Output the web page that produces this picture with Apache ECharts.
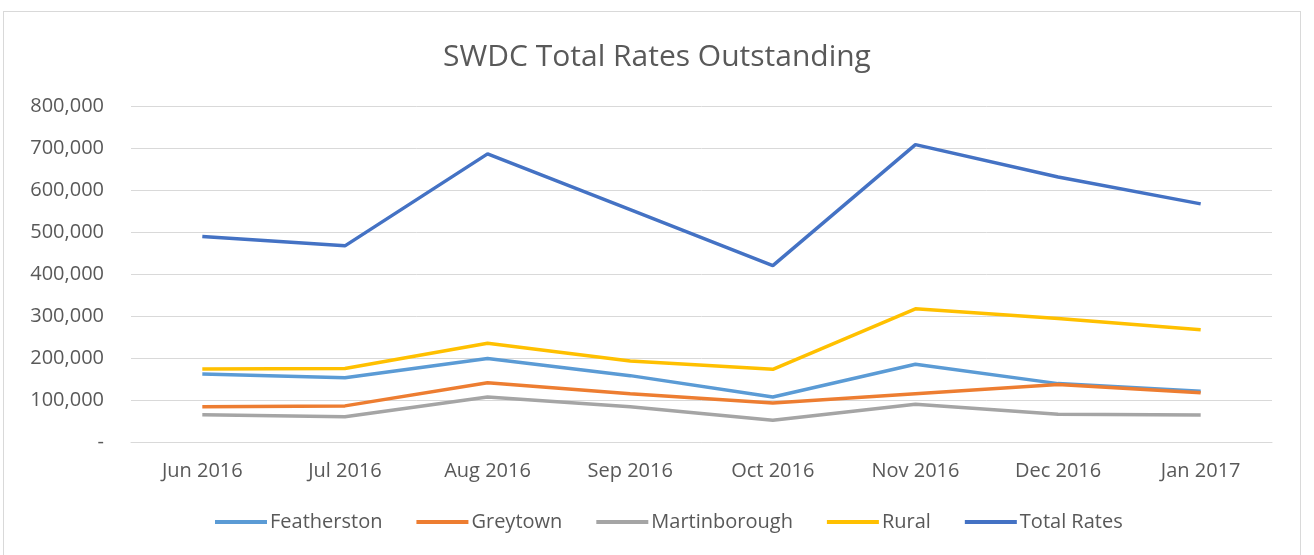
<!DOCTYPE html>
<html><head><meta charset="utf-8">
<script src="https://cdn.jsdelivr.net/npm/echarts@6/dist/echarts.min.js"></script>
<style>
html,body{margin:0;padding:0;background:#fff;}
#frame{position:absolute;left:3px;top:11px;width:1298px;height:560px;border:1px solid #d9d9d9;box-sizing:border-box;}
#c{position:absolute;left:0;top:0;width:1314px;height:555px;}
</style></head>
<body>
<div id="frame"></div>
<div id="c"></div>
<script>
var categories = ['Jun 2016','Jul 2016','Aug 2016','Sep 2016','Oct 2016','Nov 2016','Dec 2016','Jan 2017'];
var featherston = [162000,153000,199000,158000,107000,185000,139000,121000];
var greytown = [84000,86000,141000,115000,93000,115000,137000,117000];
var martinborough = [65000,60000,107000,84000,52000,90000,66000,64000];
var rural = [174000,175000,235000,193000,173000,317000,294000,267000];
var totalRates = [489000,467000,686000,553000,420000,708000,631000,567000];
var seriesNames = ['Featherston','Greytown','Martinborough','Rural','Total Rates'];
var colors = ['#5B9BD5','#ED7D31','#A5A5A5','#FFC000','#4472C4'];
var dataSets = [featherston, greytown, martinborough, rural, totalRates];

var chart = echarts.init(document.getElementById('c'));
var font = 'Open Sans';
chart.setOption({
  animation:false,
  color: colors,
  title:{text:'SWDC Total Rates Outstanding', left:'center', top:37,
    textStyle:{fontFamily:font, fontSize:30, fontWeight:'normal', color:'#595959'}},
  legend:{bottom:18, left:210, itemWidth:52, itemHeight:4, itemGap:34,
    icon:'rect',
    textStyle:{fontFamily:font, fontSize:20, color:'#595959', padding:[0,0,0,-2]},
    data: seriesNames},
  grid:{left:131, right:42, top:106, bottom:113},
  xAxis:{type:'category', data:categories, boundaryGap:true,
    axisLine:{show:true, lineStyle:{color:'#d9d9d9'}}, axisTick:{show:false},
    axisLabel:{fontFamily:font, fontSize:20, color:'#595959', margin:19}},
  yAxis:{type:'value', min:0, max:800000, interval:100000,
    axisLine:{show:false}, axisTick:{show:false},
    splitLine:{lineStyle:{color:'#d9d9d9'}},
    axisLabel:{fontFamily:font, fontSize:20, color:'#595959', margin:27,
      formatter:function(v){return v===0?'-':v.toLocaleString('en-US');}}},
  series: dataSets.map(function(d,i){return {name:seriesNames[i], type:'line', data:d,
    symbol:'none', lineStyle:{width:3.5, color:colors[i]}, itemStyle:{color:colors[i]}};})
});
</script>
</body></html>
